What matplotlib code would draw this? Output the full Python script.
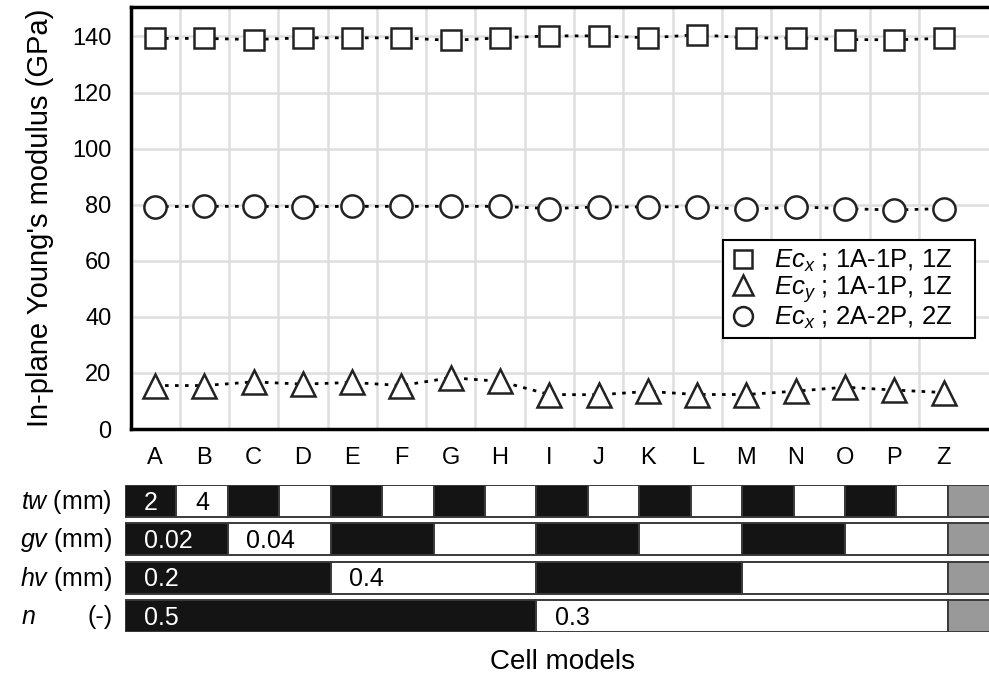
import matplotlib
matplotlib.use("Agg")
import matplotlib.pyplot as plt

plt.rcParams.update({
    "font.family": "Liberation Sans",
    "font.size": 17,
    "mathtext.fontset": "custom",
    "mathtext.rm": "Liberation Sans",
    "mathtext.it": "Liberation Sans:italic",
})

models = ["A", "B", "C", "D", "E", "F", "G", "H", "I", "J", "K", "L", "M", "N", "O", "P", "Z"]
ecx_1 = [139.3, 139.3, 138.9, 139.5, 139.5, 139.5, 138.6, 139.5, 140.2, 140.2, 139.5, 140.6,
         139.5, 139.4, 138.9, 138.8, 139.3]
ecy_1 = [15.5, 15.5, 16.8, 16.0, 16.6, 15.5, 18.3, 17.0, 12.3, 12.2, 13.4, 12.3,
         12.3, 13.5, 14.9, 13.9, 13.0]
ecx_2 = [79.3, 79.4, 79.4, 79.3, 79.4, 79.4, 79.4, 79.4, 78.6, 79.2, 79.2, 79.3,
         78.3, 79.2, 78.6, 78.1, 78.6]
leg_labels = [r"$Ec_x$ ; 1A-1P, 1Z", r"$Ec_y$ ; 1A-1P, 1Z", r"$Ec_x$ ; 2A-2P, 2Z"]

# parameter table: 1 = black, 0 = white, 2 = gray (Z)
row_names = ["tw", "gv", "hv", "n"]
row_units = ["(mm)", "(mm)", "(mm)", "(-)"]
row_cells = [
    [1, 0, 1, 0, 1, 0, 1, 0, 1, 0, 1, 0, 1, 0, 1, 0, 2],
    [1, 1, 0, 0, 1, 1, 0, 0, 1, 1, 0, 0, 1, 1, 0, 0, 2],
    [1, 1, 1, 1, 0, 0, 0, 0, 1, 1, 1, 1, 0, 0, 0, 0, 2],
    [1, 1, 1, 1, 1, 1, 1, 1, 0, 0, 0, 0, 0, 0, 0, 0, 2],
]
row_texts = [
    [(0, "2"), (1, "4")],
    [(0, "0.02"), (2, "0.04")],
    [(0, "0.2"), (4, "0.4")],
    [(0, "0.5"), (8, "0.3")],
]

W, H = 989, 677
fig = plt.figure(figsize=(W / 100, H / 100), dpi=100)
ax = fig.add_axes([131 / W, 1 - 429 / H, 858 / W, 422 / H])

x = list(range(len(models)))
ls = (0, (1.3, 2.3))
ax.plot(x, ecx_1, ls=ls, color="black", lw=2, marker="s", ms=15, mfc="white", mec="#222",
        mew=1.8, label=leg_labels[0])
ax.plot(x, ecy_1, ls=ls, color="black", lw=2, marker="^", ms=17, mfc="white", mec="#222",
        mew=1.8, label=leg_labels[1])
ax.plot(x, ecx_2, ls=ls, color="black", lw=2, marker="o", ms=16, mfc="white", mec="#222",
        mew=1.8, label=leg_labels[2])

ax.set_xlim(-0.487, 16.92)
ax.set_ylim(0, 150.5)
ax.set_yticks(range(0, 141, 20))
ax.set_xticks(x)
ax.set_xticklabels(models)
ax.set_xticks([i + 0.5 for i in x[:-1]], minor=True)
ax.tick_params(axis="both", which="both", length=0, labelsize=17)
ax.tick_params(axis="x", pad=13)
ax.tick_params(axis="y", pad=14)
ax.grid(True, axis="y", color="#dedede", lw=1.8)
ax.grid(True, axis="x", which="minor", color="#dedede", lw=1.8)
ax.set_axisbelow(True)
for s in ["left", "bottom", "top"]:
    ax.spines[s].set_linewidth(2.5)
ax.spines["right"].set_visible(False)
ax.set_ylabel("In-plane Young's modulus (GPa)", fontsize=21, labelpad=13)

lg = ax.legend([l + "   " for l in leg_labels], loc="upper right",
               bbox_to_anchor=(0.984, 0.448), borderaxespad=0,
               fancybox=False, edgecolor="black", framealpha=1, fontsize=18.5,
               handlelength=1.0, handletextpad=0.7, labelspacing=0.0, borderpad=0.3,
               markerscale=0.85)
lg.get_frame().set_linewidth(1.5)
for h in lg.legend_handles:
    h.set_linestyle("none")

# parameter table below the chart
tx = fig.add_axes([125 / W, 1 - 632 / H, 864 / W, 147 / H])
tx.set_xlim(0, 16.8)
tx.set_ylim(3.835, 0)
tx.axis("off")
colors = {0: "white", 1: "#141414", 2: "#999999"}
for r, cells in enumerate(row_cells):
    # merge runs of equal cells into one block
    start = 0
    for c in range(1, len(cells) + 1):
        if c == len(cells) or cells[c] != cells[start]:
            tx.barh(r, c - start, left=start, height=0.835, align="edge",
                    color=colors[cells[start]], edgecolor="#3a3a3a", lw=1.4)
            start = c
    for c, t in row_texts[r]:
        tc = "white" if cells[c] == 1 else "black"
        tx.text(c + 0.36, r + 0.46, t, color=tc, fontsize=18, va="center", ha="left")
    if row_names[r] == "n":
        tx.text(-2.02, r + 0.44, r"$n$", fontsize=18, va="center", ha="left", clip_on=False)
        tx.text(-0.25, r + 0.44, row_units[r], fontsize=18, va="center", ha="right")
    else:
        tx.text(-0.25, r + 0.44, r"$%s$ %s" % (row_names[r], row_units[r]), fontsize=18,
                va="center", ha="right")

fig.text(563 / W, 1 - 662 / H, "Cell models", fontsize=20, ha="center", va="center")

fig.savefig("out.png", dpi=100)
